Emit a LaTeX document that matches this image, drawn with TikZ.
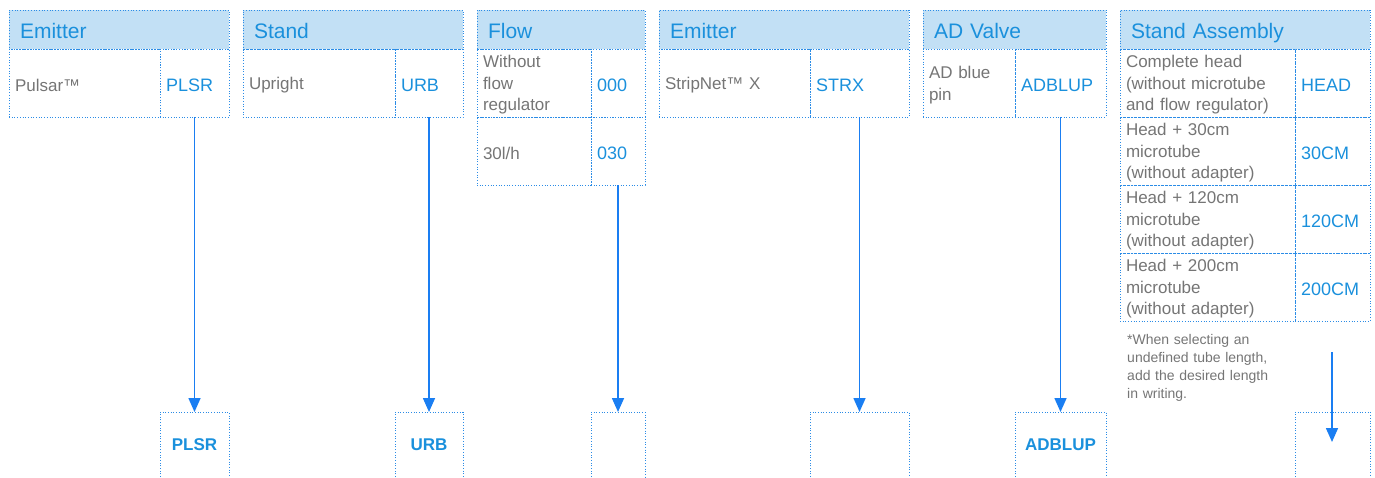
\documentclass[tikz,border=0pt]{standalone}
\usepackage{fontspec}
\setmainfont{Liberation Sans}
\usetikzlibrary{arrows.meta}
\definecolor{hdrfill}{HTML}{C2E0F5}
\definecolor{brd}{HTML}{2B8CE6}
\definecolor{txtblue}{HTML}{1A90DC}
\definecolor{txtgray}{HTML}{757575}
\definecolor{arrblue}{HTML}{1A7EF2}
\newcommand\toppad{\rule{0pt}{16.5pt}}
\tikzset{
  dotb/.style={draw=brd, line width=0.9pt, dash pattern=on 0.9pt off 1.8pt},
  hdr/.style={dotb, fill=hdrfill, anchor=north west, minimum height=39pt,
    inner xsep=11pt, inner ysep=0pt, outer sep=0pt, text=txtblue,
    text height=17pt, text depth=0pt,
    font=\fontsize{21}{25}\selectfont, align=left},
  txtcell/.style={dotb, anchor=north west, minimum height=68pt, inner xsep=6pt,
    inner ysep=0pt, outer sep=0pt, text=txtgray,
    execute at begin node=\toppad,
    font=\fontsize{17}{21.5}\selectfont, align=left},
  codecell/.style={dotb, anchor=north west, minimum height=68pt, inner xsep=6pt,
    inner ysep=0pt, outer sep=0pt, text=txtblue,
    execute at begin node=\toppad,
    font=\fontsize{18}{22}\selectfont, align=left},
  botbox/.style={anchor=north west, minimum height=65pt, inner sep=0pt,
    outer sep=0pt, text=txtblue, font=\bfseries\fontsize{17}{21}\selectfont},
  arrline/.style={draw=arrblue, line width=1.6pt,
    -{Triangle[length=14pt,width=12pt]}},
  note/.style={anchor=north west, inner sep=0pt, text=txtgray,
    font=\fontsize{14}{18.2}\selectfont, align=left, text width=150pt}
}
\begin{document}
\begin{tikzpicture}[x=1pt,y=-1pt]
\useasboundingbox (0,0) rectangle (1375,477);
% Column 1
\node[hdr, minimum width=220pt, text width=198pt] (h1) at (9,10) {Emitter};
\node[txtcell, minimum width=151pt, text width=139pt] (t1) at (9,49) {Pulsar™};
\node[codecell, minimum width=69pt, text width=57pt] (c1) at (160,49) {PLSR};
\node[botbox, minimum width=69pt] (b1) at (160,412) {PLSR};
% Column 2
\node[hdr, minimum width=220pt, text width=198pt] (h2) at (243,10) {Stand};
\node[txtcell, minimum width=152pt, text width=140pt] (t2) at (243,49) {Upright};
\node[codecell, minimum width=68pt, text width=56pt] (c2) at (395,49) {URB};
\node[botbox, minimum width=68pt] (b2) at (395,412) {URB};
% Column 3
\node[hdr, minimum width=168pt, text width=146pt] (h3) at (477,10) {Flow};
\node[txtcell, minimum width=114pt, text width=102pt] (t3a) at (477,49) {Without\\flow\\regulator};
\node[codecell, minimum width=54pt, text width=42pt] (c3a) at (591,49) {000};
\node[txtcell, minimum width=114pt, text width=102pt] (t3b) at (477,117) {30l/h};
\node[codecell, minimum width=54pt, text width=42pt] (c3b) at (591,117) {030};
\node[botbox, minimum width=54pt] (b3) at (591,412) {};
% Column 4
\node[hdr, minimum width=250pt, text width=228pt] (h4) at (659,10) {Emitter};
\node[txtcell, minimum width=151pt, text width=139pt] (t4) at (659,49) {StripNet™ X};
\node[codecell, minimum width=99pt, text width=87pt] (c4) at (810,49) {STRX};
\node[botbox, minimum width=99pt] (b4) at (810,412) {};
% Column 5
\node[hdr, minimum width=183pt, text width=161pt] (h5) at (923,10) {AD Valve};
\node[txtcell, minimum width=92pt, text width=80pt] (t5) at (923,49) {AD blue\\pin};
\node[codecell, minimum width=91pt, text width=79pt] (c5) at (1015,49) {ADBLUP};
\node[botbox, minimum width=91pt] (b5) at (1015,412) {ADBLUP};
% Column 6
\node[hdr, minimum width=250pt, text width=228pt] (h6) at (1120,10) {Stand Assembly};
\node[txtcell, minimum width=175pt, text width=163pt] (t6a) at (1120,49) {Complete head\\(without microtube\\and flow regulator)};
\node[codecell, minimum width=75pt, text width=63pt] (c6a) at (1295,49) {HEAD};
\node[txtcell, minimum width=175pt, text width=163pt] (t6b) at (1120,117) {Head + 30cm\\microtube\\(without adapter)};
\node[codecell, minimum width=75pt, text width=63pt] (c6b) at (1295,117) {30CM};
\node[txtcell, minimum width=175pt, text width=163pt] (t6c) at (1120,185) {Head + 120cm\\microtube\\(without adapter)};
\node[codecell, minimum width=75pt, text width=63pt] (c6c) at (1295,185) {120CM};
\node[txtcell, minimum width=175pt, text width=163pt] (t6d) at (1120,253) {Head + 200cm\\microtube\\(without adapter)};
\node[codecell, minimum width=75pt, text width=63pt] (c6d) at (1295,253) {200CM};
\node[botbox, minimum width=75pt] (b6) at (1295,412) {};
\node[note] (n6) at (1127,334) {*When selecting an\\undefined tube length,\\add the desired length\\in writing.};
% bottom boxes (open at the bottom)
\foreach \b in {b1,b2,b3,b4,b5,b6}
  \draw[dotb] (\b.south west) -- (\b.north west) -- (\b.north east) -- (\b.south east);
% arrows
\draw[arrline] (c1.south) -- (b1.north);
\draw[arrline] (c2.south) -- (b2.north);
\draw[arrline] (c3b.south) -- (b3.north);
\draw[arrline] (c4.south) -- (b4.north);
\draw[arrline] (c5.south) -- (b5.north);
\coordinate (a6s) at (1332,352);
\coordinate (a6e) at (1332,442);
\draw[arrline] (a6s) -- (a6e);
\end{tikzpicture}
\end{document}
